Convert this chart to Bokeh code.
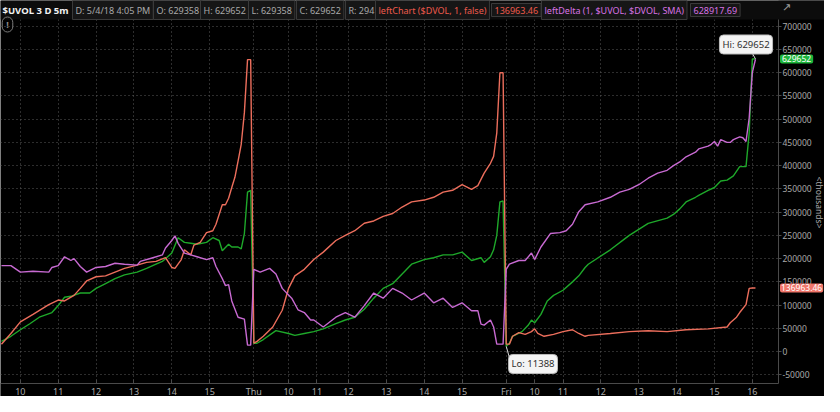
import math
from bokeh.plotting import figure
from bokeh.models import FixedTicker, NumeralTickFormatter, Label, Arrow, Range1d, BoxAnnotation
from bokeh.embed import file_html
from bokeh.resources import INLINE

# ---------------- data (bar index of 5-minute bars, 3 sessions) ----------------
uvol_x = [0, 3, 6, 9, 12, 16, 18, 20, 22, 25, 28, 30, 33, 36, 39, 43, 46, 49, 51, 54,
          56, 58, 60, 62, 65, 67, 69, 70, 72, 73, 75, 76, 77, 78, 79,
          80, 81, 83, 87, 91, 93, 96, 99, 102, 106, 109, 112, 115, 118, 121, 124, 127, 130, 134, 137,
          140, 143, 146, 149, 152, 153, 155, 156, 157, 158, 159,
          160, 161, 162, 165, 167, 168, 169, 171, 173, 175, 178, 181, 183, 185, 186, 193, 199, 205, 211, 213,
          215, 217, 220, 221, 224, 226, 228, 230, 232, 234, 236, 237, 238, 239]
uvol_y = [22000, 33000, 47000, 60000, 74000, 84000, 99000, 117000, 119000, 126000, 126000, 136000, 146000,
          157000, 165000, 171000, 179000, 188000, 194000, 212000, 245000, 235000, 233000, 231000, 235000,
          245000, 239000, 217000, 231000, 225000, 225000, 221000, 254000, 343000, 347000,
          18000, 18000, 26000, 45000, 39000, 35000, 39000, 43000, 49000, 60000, 68000, 74000, 91000, 115000,
          136000, 146000, 167000, 188000, 198000, 202000, 208000, 208000, 214000, 196000, 202000, 192000,
          204000, 219000, 250000, 322000, 324000,
          11388, 18000, 33000, 43000, 57000, 68000, 62000, 80000, 109000, 121000, 132000, 150000, 163000,
          181000, 188000, 219000, 250000, 276000, 287000, 295000, 307000, 322000, 332000, 336000, 347000,
          353000, 367000, 369000, 378000, 398000, 398000, 470000, 629358, 629652]

dvol_x = [0, 3, 6, 10, 15, 18, 20, 23, 25, 27, 30, 33, 36, 39, 43, 46, 49, 52, 54, 55,
          57, 58, 60, 61, 63, 65, 67, 68, 70, 71, 72, 73, 74, 75, 76, 77, 78, 79,
          80, 81, 83, 86, 89, 91, 93, 96, 99, 102, 106, 109, 112, 115, 118, 121, 124, 127, 130, 134,
          137, 140, 143, 146, 149, 151, 153, 155, 156, 157, 158, 159,
          160, 161, 162, 164, 166, 168, 169, 170, 172, 175, 178, 181, 183, 185, 186, 193, 199, 205, 211, 217,
          224, 230, 231, 233, 234, 236, 237, 238, 239]
dvol_y = [16000, 39000, 64000, 80000, 101000, 111000, 109000, 121000, 136000, 152000, 161000, 163000,
          171000, 179000, 186000, 192000, 194000, 202000, 181000, 179000, 198000, 219000, 208000, 229000,
          235000, 256000, 260000, 274000, 316000, 316000, 330000, 353000, 375000, 410000, 446000, 514000,
          628000, 628000,
          18000, 22000, 33000, 53000, 89000, 136000, 163000, 177000, 198000, 214000, 239000, 250000, 260000,
          276000, 281000, 291000, 297000, 311000, 322000, 326000, 332000, 343000, 347000, 359000, 349000,
          357000, 384000, 405000, 420000, 470000, 600000, 600000,
          16000, 16000, 33000, 41000, 37000, 43000, 49000, 39000, 33000, 37000, 43000, 47000, 39000, 33000,
          35000, 39000, 43000, 45000, 43000, 47000, 49000, 53000, 62000, 74000, 84000, 101000, 136000,
          136900, 136963.46]

delta_x = [0, 3, 6, 10, 15, 16, 18, 20, 22, 23, 25, 27, 30, 33, 36, 39, 43, 44, 48, 51,
           52, 54, 55, 56, 58, 60, 62, 65, 67, 68, 70, 71, 72, 73, 75, 77, 78, 79,
           80, 82, 85, 87, 89, 92, 94, 96, 98, 99, 102, 106, 109, 112, 115, 118, 121, 124, 127, 130,
           134, 137, 140, 143, 146, 149, 151, 152, 153, 155, 156, 157, 159,
           160, 161, 164, 166, 168, 169, 171, 174, 177, 179, 181, 183, 185, 189, 193, 196, 199, 202, 205, 208,
           211, 213, 215, 217, 220, 221, 224, 225, 226, 227, 228, 230, 231, 232, 234, 235, 236, 237, 238, 239]
delta_y = [185000, 185000, 171000, 173000, 171000, 181000, 185000, 204000, 196000, 200000, 183000, 171000,
           181000, 183000, 190000, 188000, 186000, 194000, 202000, 208000, 223000, 239000, 249000, 233000,
           212000, 208000, 204000, 198000, 202000, 183000, 157000, 142000, 144000, 109000, 74000, 70000,
           14000, 14000,
           177000, 171000, 179000, 167000, 136000, 115000, 90000, 84000, 68000, 68000, 53000, 74000, 84000,
           74000, 99000, 126000, 115000, 136000, 126000, 111000, 126000, 105000, 115000, 95000, 105000,
           88000, 88000, 59000, 57000, 68000, 53000, 16000, 16000,
           177000, 188000, 196000, 196000, 212000, 198000, 225000, 254000, 256000, 260000, 274000, 301000,
           316000, 322000, 332000, 343000, 349000, 359000, 373000, 384000, 390000, 400000, 408000, 419000,
           429000, 436000, 442000, 446000, 452000, 442000, 456000, 450000, 450000, 456000, 462000, 460000,
           452000, 502000, 600000, 628917.69]

x_tick_pos = [6, 18, 30, 42, 54, 66, 80, 91, 100, 110, 122, 134, 146, 160, 169, 178, 190, 202, 214, 226, 238]
x_tick_labels = ["10", "11", "12", "13", "14", "15", "Thu", "10", "11", "12", "13", "14", "15",
                 "Fri", "10", "11", "12", "13", "14", "15", "16"]
y_ticks = [-50000, 0, 50000, 100000, 150000, 200000, 250000, 300000, 350000, 400000, 450000,
           500000, 550000, 600000, 650000, 700000]

header_title = "$UVOL 3 D 5m"
header_texts = ["D: 5/4/18 4:05 PM", "O: 629358", "H: 629652", "L: 629358", "C: 629652", "R: 294",
                "leftChart ($DVOL, 1, false)", "136963.46", "leftDelta (1, $UVOL, $DVOL, SMA)", "628917.69"]

assert len(uvol_x) == len(uvol_y) and len(dvol_x) == len(dvol_y) and len(delta_x) == len(delta_y)

# ---------------- layout / styles ----------------
GREEN = "#1ea82a"
SALMON = "#ec6e5c"
VIOLET = "#c86ad2"
AXIS_GRAY = "#4a4a4a"
TEXT_GRAY = "#a9a9a9"
FONT = "Noto Sans"

W, H = 824, 396
TOP, BOTTOM, RIGHT = 19, 13, 46          # pixel bands for header, time axis, price axis
X0, X1 = -0.3, 246.3                     # visible bar span of the data area
Y0, Y1 = -68600, 714400                  # visible value span of the data area
xpp = (X1 - X0) / (W - RIGHT)
ypp = (Y1 - Y0) / (H - TOP - BOTTOM)

p = figure(width=W, height=H, output_backend="svg", toolbar_location=None,
           x_range=Range1d(X0, X1 + RIGHT * xpp), y_range=Range1d(Y0 - BOTTOM * ypp, Y1 + TOP * ypp),
           y_axis_location="right", min_border=0)
p.background_fill_color = "#000000"
p.border_fill_color = "#000000"
p.outline_line_color = None

xt = FixedTicker(ticks=x_tick_pos)
yt = FixedTicker(ticks=y_ticks)
xa = p.xaxis[0]
ya = p.yaxis[0]
xa.ticker = xt
ya.ticker = yt
p.xgrid.ticker = xt
p.ygrid.ticker = yt
xa.fixed_location = Y0
ya.fixed_location = X1
xa.bounds = (X0, X1)
ya.bounds = (Y0, Y1)
xa.major_label_overrides = {t: l for t, l in zip(x_tick_pos, x_tick_labels)}
ya.formatter = NumeralTickFormatter(format="0")

for ax in (xa, ya):
    ax.axis_line_color = AXIS_GRAY
    ax.major_tick_line_color = AXIS_GRAY
    ax.minor_tick_line_color = None
    ax.major_label_text_color = TEXT_GRAY
    ax.major_label_text_font = FONT
xa.major_tick_in = 4
xa.major_tick_out = 0
xa.major_label_standoff = 1
xa.major_label_text_font_size = "9px"
ya.major_tick_in = 0
ya.major_tick_out = 3
ya.major_label_standoff = 1
ya.major_label_text_font_size = "8.5px"

for g in (p.xgrid, p.ygrid):
    g.grid_line_color = "#5a5a5a"
    g.grid_line_dash = "1 3"
    g.grid_line_width = 1

# masks so that grid lines stay inside the data area
p.add_layout(BoxAnnotation(left=X1, fill_color="#000000", fill_alpha=1, line_color=None, level="underlay"))
p.add_layout(BoxAnnotation(top=Y0, fill_color="#000000", fill_alpha=1, line_color=None, level="underlay"))
p.add_layout(BoxAnnotation(bottom=Y1, fill_color="#0c0c0c", fill_alpha=1, line_color=None, level="underlay"))

p.line(uvol_x, uvol_y, line_color=GREEN, line_width=1.4)
p.line(dvol_x, dvol_y, line_color=SALMON, line_width=1.4)
p.line(delta_x, delta_y, line_color=VIOLET, line_width=1.4)

# ---------------- header ----------------
hy = H - 9.5
p.add_layout(Label(x=2, y=hy, x_units="screen", y_units="screen", text=header_title,
                   text_font=FONT, text_font_size="9.5px", text_font_style="bold",
                   text_color="#f2f2f2", text_baseline="middle"))
hx = [72, 153, 200, 248, 296, 345, 375, 491, 541, 690]
hcol = [TEXT_GRAY] * 6 + ["#ee5a4c", "#ee5a4c", "#d872e4", "#d872e4"]
for x0, t, c in zip(hx, header_texts, hcol):
    p.add_layout(Label(x=x0, y=hy, x_units="screen", y_units="screen", text=t,
                       text_font=FONT, text_font_size="9px", text_color=c, text_baseline="middle",
                       background_fill_color="#161616", border_line_color="#3a3a3a",
                       padding=3))
# chart-style icon at the top right
p.add_layout(Label(x=W - 38, y=H - 7, x_units="screen", y_units="screen", text="↗",
                   text_font="DejaVu Sans", text_font_size="11px", text_color="#9a9a9a",
                   text_align="center", text_baseline="middle"))

# ---------------- right-side value badges ----------------
p.add_layout(Label(x=X1 + 1.5 * xpp, y=uvol_y[-1], text=f"{uvol_y[-1]:.0f}",
                   text_font=FONT, text_font_size="8.5px", text_color="#ffffff", text_baseline="middle",
                   background_fill_color="#1db53b", padding=(2, 1), border_radius=2))
p.add_layout(Label(x=X1 + 1.5 * xpp, y=dvol_y[-1], text=f"{dvol_y[-1]:.2f}",
                   text_font=FONT, text_font_size="8.5px", text_color="#ffffff", text_baseline="middle",
                   background_fill_color="#f0766a", padding=(1, 1), border_radius=2))
p.add_layout(Label(x=W - 5, y=H - 202, x_units="screen", y_units="screen", text="<thousands>",
                   angle=-math.pi / 2, text_font=FONT, text_font_size="8.5px", text_color=TEXT_GRAY,
                   text_align="center", text_baseline="middle"))

# ---------------- Hi / Lo callouts ----------------
imax = max(range(len(uvol_y)), key=lambda i: uvol_y[i])
imin = min(range(len(uvol_y)), key=lambda i: uvol_y[i])
hx_, hy_ = uvol_x[imax], uvol_y[imax]
lx_, ly_ = uvol_x[imin], uvol_y[imin]
p.add_layout(Arrow(end=None, x_start=hx_ - 1.5, y_start=hy_ + 18000, x_end=hx_, y_end=hy_,
                   line_color="#d8d8d8", line_width=1))
p.add_layout(Label(x=hx_ - 3, y=hy_ + 31000, text=f"Hi: {hy_:.0f}", text_font=FONT,
                   text_font_size="9.5px", text_color="#303030", text_align="center",
                   text_baseline="middle", background_fill_color="#f4f4f4",
                   border_line_color="#bbbbbb", border_radius=4, padding=3))
p.add_layout(Arrow(end=None, x_start=lx_ + 1, y_start=ly_ - 24000, x_end=lx_, y_end=ly_,
                   line_color="#d8d8d8", line_width=1))
p.add_layout(Label(x=lx_ + 8.5, y=ly_ - 38000, text=f"Lo: {ly_:.0f}", text_font=FONT,
                   text_font_size="9.5px", text_color="#303030", text_align="center",
                   text_baseline="middle", background_fill_color="#f4f4f4",
                   border_line_color="#bbbbbb", border_radius=4, padding=3))

# info icon
p.add_layout(Label(x=7, y=H - 24, x_units="screen", y_units="screen", text="!",
                   text_font=FONT, text_font_size="9px", text_font_style="bold", text_color="#8a8a8a",
                   text_align="center", text_baseline="middle", border_line_color="#7a7a7a",
                   border_radius=6, padding=(4, 1)))

open("out.html", "w").write(file_html(p, INLINE))
